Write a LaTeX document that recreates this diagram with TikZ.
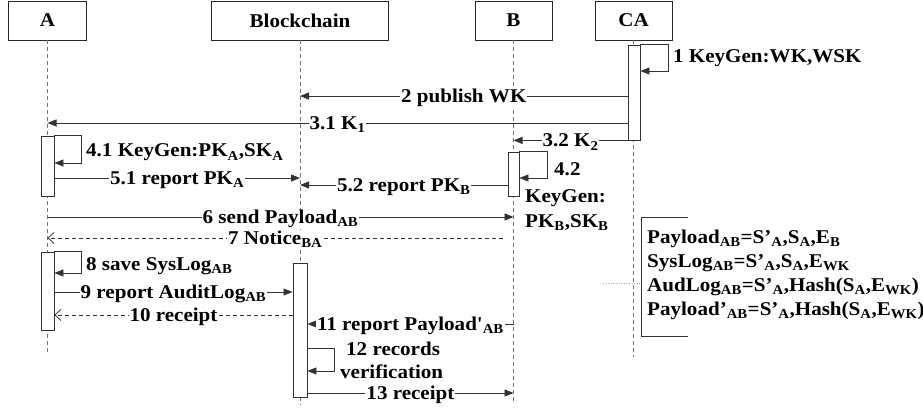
\documentclass[tikz,border=0pt]{standalone}
\usepackage{fontspec}
\setmainfont{Liberation Serif}[FakeStretch=1.08]
\newfontfamily\straightfont{Liberation Serif}[FakeStretch=1.08,Ligatures=TeXOff]
\usetikzlibrary{arrows.meta}
\begin{document}
\begin{tikzpicture}[x=1pt,y=-1pt,
  every node/.style={font=\fontsize{19.5}{24}\selectfont\bfseries},
  hdr/.style={draw=black!85, fill=white, line width=0.9pt, minimum height=39pt, inner sep=0pt},
  life/.style={draw=black!55, line width=0.7pt, dash pattern=on 4pt off 3pt},
  act/.style={draw=black!80, fill=white, line width=0.8pt, inner sep=0pt},
  msg/.style={draw=black!80, line width=0.8pt, -{Triangle[length=9pt,width=7pt]}},
  ret/.style={draw=black!80, line width=0.8pt, dash pattern=on 4pt off 3pt, -{Straight Barb[length=6pt,width=11pt]}},
  lbl/.style={fill=white, inner sep=1pt, anchor=base, yshift=-6.5pt},
  txt/.style={inner sep=0pt, anchor=base west}]
\useasboundingbox (0,0) rectangle (923,409);

% headers
\node[hdr, minimum width=78pt] (hA) at (47.5,20.5) {A};
\node[hdr, minimum width=177pt] (hBC) at (300,20.5) {Blockchain};
\node[hdr, minimum width=77pt] (hB) at (513.5,20.5) {B};
\node[hdr, minimum width=77pt] (hCA) at (633.5,20.5) {CA};

% lifeline ends
\coordinate (eA) at (47.5,352);
\coordinate (eBC) at (300,405);
\coordinate (eB) at (513.5,402);
\coordinate (eCA) at (633.5,357);
\draw[life] (hA.south) -- (eA);
\draw[life] (hBC.south) -- (eBC);
\draw[life] (hB.south) -- (eB);
\draw[life] (hCA.south) -- (eCA);

% activations
\node[act, minimum width=12pt, minimum height=95pt] (actCA) at (634,92.5) {};
\node[act, minimum width=13pt, minimum height=60pt] (actA1) at (47.5,166) {};
\node[act, minimum width=11pt, minimum height=44pt] (actB) at (513.5,174) {};
\node[act, minimum width=13pt, minimum height=78pt] (actA2) at (47.5,291) {};
\node[act, minimum width=14pt, minimum height=134pt] (actBC) at (300,330) {};

% 1
\draw[msg] (actCA.north east) -- ++(28,0) |- (actCA.east |- 0,71);
\node[txt] (l1) at (673,63) {1 KeyGen:WK,WSK};
% 2
\draw[msg] (actCA.west |- 0,96) -- node[lbl]{2 publish WK} (hBC |- 0,96);
% 3.1
\draw[msg] (actCA.west |- 0,123) -- node[lbl]{3.1 K\textsubscript{1}} (hA |- 0,123);
% 3.2
\draw[msg] (actCA.south west) -- node[lbl]{3.2 K\textsubscript{2}} (hB |- actCA.south);
% 4.1
\draw[msg] (actA1.north east) -- ++(27,0) |- (actA1.east |- 0,163);
\node[txt] (l41) at (86,157) {4.1 KeyGen:PK\textsubscript{A},SK\textsubscript{A}};
% 5.1
\draw[msg] (actA1.east |- 0,178) -- node[lbl]{5.1 report PK\textsubscript{A}} (hBC |- 0,178);
% 4.2
\draw[msg] (actB.north east) -- ++(28,0) |- (actB.east |- 0,178);
\node[txt] (l42a) at (554,175) {4.2};
\node[txt] (l42b) at (525,202) {KeyGen:};
\node[txt] (l42c) at (525,227) {PK\textsubscript{B},SK\textsubscript{B}};
% 5.2
\draw[msg] (actB.west |- 0,185) -- node[lbl]{5.2 report PK\textsubscript{B}} (hBC |- 0,185);
% 6
\draw[msg] (hA |- 0,217) -- node[lbl]{6 send Payload\textsubscript{AB}} (hB |- 0,217);
% 7
\coordinate (s7) at (503,238);
\draw[ret] (s7) -- node[lbl]{7 Notice\textsubscript{BA}} (hA |- s7);
% 8
\draw[msg] (actA2.north east) -- ++(27,0) |- (actA2.east |- 0,273);
\node[txt] (l8) at (86,270) {8 save SysLog\textsubscript{AB}};
% 9
\draw[msg] (actA2.east |- 0,292) -- node[lbl]{9 report AuditLog\textsubscript{AB}} (actBC.west |- 0,292);
% 10
\draw[ret] (actBC.west |- 0,315) -- node[lbl]{10 receipt} (actA2.east |- 0,315);
% 11
\draw[msg] (hB |- 0,324) -- node[lbl]{11 report Payload{\straightfont\bfseries '}\textsubscript{AB}} (actBC.east |- 0,324);
% 12
\draw[msg] (actBC.east |- 0,348) -- ++(27,0) |- (actBC.east |- 0,371);
\node[txt] (l12a) at (346,355) {12 records};
\node[txt] (l12b) at (340,378) {verification};
% 13
\draw[msg] (actBC.east |- 0,393) -- node[lbl]{13 receipt} (hB |- 0,393);

% note
\coordinate (nt) at (688,217);
\coordinate (nb) at (688,336);
\draw[draw=black!80, line width=1pt] (nt) -- (641,217) -- (641,336) -- (nb);
\draw[draw=black!35, dotted, line width=0.6pt] (603,283) -- (641,283);
\node[txt] (n1) at (647,243) {Payload\textsubscript{AB}=S’\textsubscript{A},S\textsubscript{A},E\textsubscript{B}};
\node[txt] (n2) at (647,267) {SysLog\textsubscript{AB}=S’\textsubscript{A},S\textsubscript{A},E\textsubscript{WK}};
\node[txt] (n3) at (647,291) {AudLog\textsubscript{AB}=S’\textsubscript{A},Hash(S\textsubscript{A},E\textsubscript{WK})};
\node[txt] (n4) at (647,315) {Payload’\textsubscript{AB}=S’\textsubscript{A},Hash(S\textsubscript{A},E\textsubscript{WK})};
\end{tikzpicture}
\end{document}
